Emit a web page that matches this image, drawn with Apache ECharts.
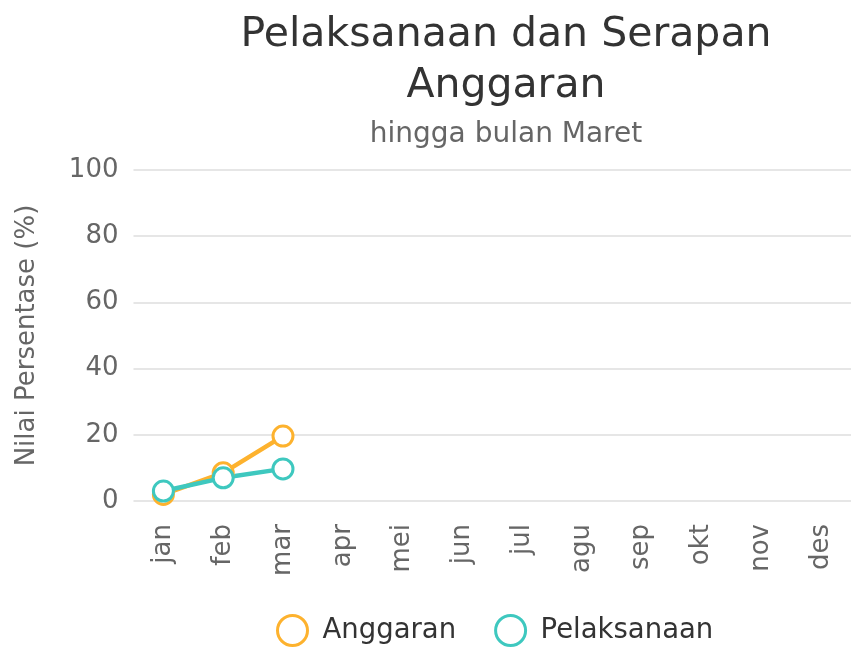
<!DOCTYPE html>
<html><head><meta charset="utf-8">
<script src="https://cdn.jsdelivr.net/npm/echarts@6/dist/echarts.min.js"></script>
<style>html,body{margin:0;padding:0;background:#fff}#c{width:851px;height:648px}</style>
</head><body><div id="c"></div>
<script>
const months = ['jan','feb','mar','apr','mei','jun','jul','agu','sep','okt','nov','des'];
const anggaran = [2, 8.5, 19.6];
const pelaksanaan = [3, 7, 9.7];
const yTicks = [0, 20, 40, 60, 80, 100];
const colA = '#fdb22e', colP = '#3ec8bf';
const font = '"DejaVu Sans", Verdana, sans-serif';
const chart = echarts.init(document.getElementById('c'));
chart.setOption({
  animation: false,
  textStyle: {fontFamily: font},
  title: [
    {text: 'Pelaksanaan dan Serapan\nAnggaran', left: 501, top: 5, textAlign: 'center',
     textStyle: {fontFamily: font, fontSize: 41, fontWeight: 'normal', color: '#333', lineHeight: 51}},
    {text: 'hingga bulan Maret', left: 501, top: 115, textAlign: 'center',
     textStyle: {fontFamily: font, fontSize: 28, fontWeight: 'normal', color: '#666', lineHeight: 30}}
  ],
  legend: {
    left: 271, top: 609, itemWidth: 30, itemHeight: 30, itemGap: 38,
    textStyle: {fontFamily: font, fontSize: 27.5, color: '#333', padding: [0,0,0,10]},
    data: [
      {name: 'Anggaran', icon: 'circle', itemStyle: {color: '#fff', borderColor: colA, borderWidth: 3}},
      {name: 'Pelaksanaan', icon: 'circle', itemStyle: {color: '#fff', borderColor: colP, borderWidth: 3}}
    ]
  },
  grid: {left: 133.5, top: 170, width: 736.4, height: 331, containLabel: false},
  xAxis: {
    type: 'category', data: months, boundaryGap: true,
    axisLine: {show: false}, axisTick: {show: false},
    axisLabel: {rotate: 90, margin: 23, fontSize: 26, color: '#666', fontFamily: font}
  },
  yAxis: {
    type: 'value', min: 0, max: 100, interval: 20,
    name: 'Nilai Persentase (%)', nameLocation: 'middle', nameGap: 93, nameRotate: 90,
    nameTextStyle: {fontSize: 26, color: '#666', fontFamily: font},
    axisLabel: {fontSize: 26, color: '#666', margin: 15, fontFamily: font,
      formatter: v => yTicks.includes(v) ? String(v) : ''},
    splitLine: {lineStyle: {color: '#e6e6e6', width: 2}},
    axisLine: {show: false}, axisTick: {show: false}
  },
  series: [
    {name: 'Anggaran', type: 'line', data: anggaran, color: colA, symbol: 'circle', symbolSize: 20,
     lineStyle: {color: colA, width: 4.5}, itemStyle: {color: '#fff', borderColor: colA, borderWidth: 3}},
    {name: 'Pelaksanaan', type: 'line', data: pelaksanaan, color: colP, symbol: 'circle', symbolSize: 20,
     lineStyle: {color: colP, width: 4.5}, itemStyle: {color: '#fff', borderColor: colP, borderWidth: 3}}
  ]
});
</script></body></html>
